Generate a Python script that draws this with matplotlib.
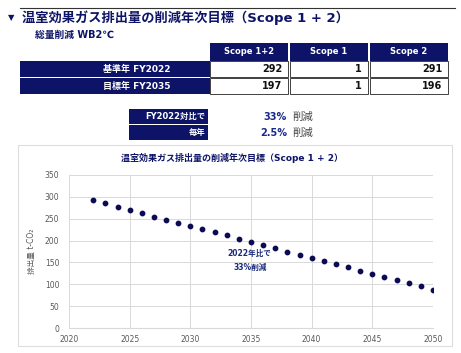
import matplotlib
matplotlib.use('Agg')
from matplotlib import pyplot as plt
from matplotlib.patches import Rectangle

plt.rcParams['font.family'] = ['DejaVu Sans', 'Noto Sans CJK JP']

# data
years = list(range(2022, 2051))
emissions = [292, 285, 277, 270, 263, 255, 248, 241, 234, 226,
             219, 212, 204, 197, 190, 182, 175, 168, 160, 153,
             146, 139, 131, 124, 117, 109, 102, 95, 88]

col_headers = ['Scope 1+2', 'Scope 1', 'Scope 2']
row_labels = ['基準年 FY2022', '目標年 FY2035']
table_vals = [[292, 1, 291], [197, 1, 196]]

sub_labels = ['FY2022対比で', '毎年']
sub_values = ['33%', '2.5%']

NAVY = '#0d1467'
W, H = 461, 353

fig = plt.figure(figsize=(W / 100, H / 100), dpi=100)


def fx(x):
	return x / W


def fy(y):
	return 1 - y / H


def box(x0, y0, x1, y1, fc, ec='none', lw=0.8, z=1):
	fig.patches.append(Rectangle((fx(x0), fy(y1)), fx(x1) - fx(x0), fy(y0) - fy(y1),
		transform=fig.transFigure, facecolor=fc, edgecolor=ec, linewidth=lw, zorder=z))


# header line and titles
fig.add_artist(plt.Line2D([fx(20), fx(455)], [fy(8), fy(8)], color='#333333', lw=0.8,
	transform=fig.transFigure))
fig.text(fx(8), fy(18), '▼', color=NAVY, fontsize=6, va='center')
fig.text(fx(22), fy(18), '温室効果ガス排出量の削減年次目標（Scope 1 + 2）', color=NAVY,
	fontsize=9.5, fontweight='bold', va='center')
fig.text(fx(35), fy(35), '総量削減 WB2℃', color=NAVY, fontsize=7, fontweight='bold', va='center')

# main table
col_x = [(210, 288), (290, 368), (370, 448)]
for (x0, x1), name in zip(col_x, col_headers):
	box(x0, 43, x1, 61, NAVY)
	fig.text(fx((x0 + x1) / 2), fy(52), name, color='white', fontsize=6,
		fontweight='bold', ha='center', va='center')
row_y = [(61, 77), (78, 94)]
for (y0, y1), lab, vals in zip(row_y, row_labels, table_vals):
	box(20, y0, 210, y1, NAVY)
	fig.text(fx(170), fy((y0 + y1) / 2), lab, color='white', fontsize=6.5,
		fontweight='bold', ha='right', va='center')
	for (x0, x1), v in zip(col_x, vals):
		box(x0, y0, x1, y1, 'white', ec='#222222', lw=0.6)
		fig.text(fx(x1 - 6), fy((y0 + y1) / 2), str(v), color='#111111', fontsize=7,
			fontweight='bold', ha='right', va='center')

# reduction summary
sub_y = [(109, 124), (125, 140)]
for (y0, y1), lab, val in zip(sub_y, sub_labels, sub_values):
	box(129, y0, 208, y1, NAVY)
	fig.text(fx(205), fy((y0 + y1) / 2), lab, color='white', fontsize=6,
		fontweight='bold', ha='right', va='center')
	fig.text(fx(287), fy((y0 + y1) / 2), val, color='#1a2a8a', fontsize=7,
		fontweight='bold', ha='right', va='center')
	fig.text(fx(292), fy((y0 + y1) / 2), '削減', color='#444444', fontsize=7.5, va='center')

# chart frame
box(18, 145, 452, 346, 'white', ec='#dddddd', lw=0.8, z=-1)

ax = fig.add_axes([fx(69), fy(328), fx(433) - fx(69), fy(175) - fy(328)])
ax.set_zorder(2)
ax.patch.set_alpha(0)
ax.scatter(years, emissions, s=10, color='#0a0a55', zorder=3)
ax.set_xlim(2020, 2050)
ax.set_ylim(0, 350)
ax.set_xticks(range(2020, 2051, 5))
ax.set_yticks(range(0, 351, 50))
ax.grid(True, color='#d9d9d9', lw=0.7)
ax.set_axisbelow(True)
for s in ax.spines.values():
	s.set_visible(False)
ax.spines['bottom'].set_visible(True)
ax.spines['bottom'].set_color('#d9d9d9')
ax.tick_params(axis='y', length=0, labelsize=5.5, labelcolor='#595959', pad=7)
ax.tick_params(axis='x', length=0, labelsize=5.5, labelcolor='#595959', pad=5)
ax.set_ylabel('排出量 t-CO₂', fontsize=5.5, color='#595959', labelpad=6)

fig.text(fx(232), fy(158), '温室効果ガス排出量の削減年次目標（Scope 1 + 2）', color=NAVY,
	fontsize=6.5, fontweight='bold', ha='center', va='center')
ax.text(2034.9, 154, '2022年比で\n33%削減', color='#1a2a7a', fontsize=5.5,
	fontweight='bold', ha='center', va='center', linespacing=1.7)

fig.savefig('out.png', dpi=100)
